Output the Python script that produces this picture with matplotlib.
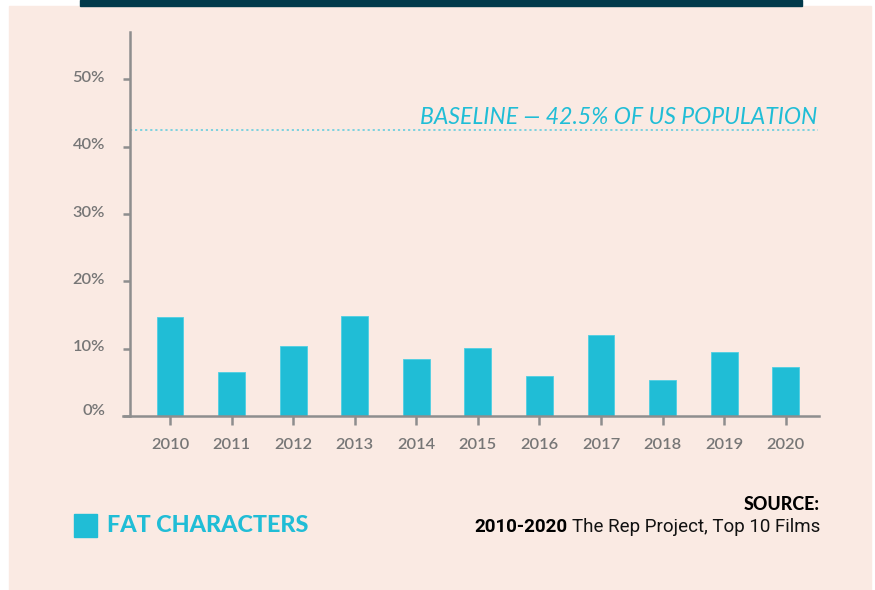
import matplotlib
matplotlib.use("Agg")
import matplotlib.pyplot as plt
from matplotlib.patches import Rectangle
import matplotlib.transforms as mtransforms

years = ["2010", "2011", "2012", "2013", "2014", "2015", "2016", "2017", "2018", "2019", "2020"]
fat_pct = [14.8, 6.5, 10.4, 14.9, 8.5, 10.2, 6.0, 12.0, 5.4, 9.6, 7.3]
baseline = 42.5
yticks = [0, 10, 20, 30, 40, 50]
ytick_labels = ["0%", "10%", "20%", "30%", "40%", "50%"]
baseline_label = "BASELINE — 42.5% OF US POPULATION"
legend_label = "FAT CHARACTERS"

W, H = 875, 590
fig = plt.figure(figsize=(W / 100, H / 100), dpi=100, facecolor="white")

PINK = "#FAEAE3"
CYAN = "#20BDD6"
GREY = "#8E8E8E"
LABEL_GREY = "#767676"

def px(x0, y0, x1, y1):
    # top-origin pixel box -> figure fraction rect
    return (x0 / W, 1 - y1 / H, (x1 - x0) / W, (y1 - y0) / H)

l, b, w, h = px(9, 6, 871, 590)
fig.patches.append(Rectangle((l, b), w, h, transform=fig.transFigure, color=PINK, zorder=-2))
l, b, w, h = px(80, 0, 802, 5.5)
fig.patches.append(Rectangle((l, b), w, h, transform=fig.transFigure, color="#013A4B", zorder=-2))

ax = fig.add_axes(px(123, 32, 819.3, 416.3))
ax.set_zorder(1)
ax.set_facecolor("none")
x = list(range(len(years)))
ax.bar(x, fat_pct, width=0.435, color=CYAN, edgecolor="#4FCFE2", linewidth=0.6, zorder=3)
ax.set_xlim(-0.763, 10.546)
ax.set_ylim(0, 57)

for s in ["top", "right"]:
    ax.spines[s].set_visible(False)
ax.spines["left"].set_position(("data", -0.65))
for s in ["left", "bottom"]:
    ax.spines[s].set_color(GREY)
    ax.spines[s].set_linewidth(1.8)
ax.spines["left"].set_zorder(4)
ax.spines["bottom"].set_zorder(4)

ax.set_xticks(x)
ax.set_xticklabels(years)
ax.set_yticks(yticks)
ax.set_yticklabels(ytick_labels)
ax.tick_params(axis="x", length=6.5, width=1.8, color=GREY, pad=9, labelsize=11.8, labelcolor=LABEL_GREY)
ax.tick_params(axis="y", length=5, width=1.8, color=GREY, pad=13, labelsize=11.8, labelcolor=LABEL_GREY)
for lab in ax.get_xticklabels() + ax.get_yticklabels():
    lab.set_fontfamily(["Lato", "DejaVu Sans"])
    lab.set_fontweight("semibold")
for lab in ax.get_yticklabels():
    dy = 3 if lab.get_text() != "0%" else 7
    lab.set_transform(lab.get_transform() + mtransforms.ScaledTranslation(0, dy / 100, fig.dpi_scale_trans))

# baseline
ax.plot([-0.65, 10.52], [baseline, baseline], linestyle=(0, (1.2, 1.6)), color="#72D0DF", linewidth=1.3, zorder=2)
ax.text(10.52, baseline + 0.85, baseline_label, ha="right", va="baseline", color=CYAN, fontsize=16.6,
        fontstyle="italic", fontweight="normal", family=["Lato", "DejaVu Sans"])

# legend
l, b, w, h = px(74, 514, 97, 537)
fig.patches.append(Rectangle((l, b), w, h, transform=fig.transFigure, color=CYAN, zorder=2))
fig.text(107 / W, 1 - 526 / H, legend_label, ha="left", va="center", color=CYAN, fontsize=16.8,
         fontweight="black", family=["Lato", "DejaVu Sans"])

# source
fig.text(820 / W, 1 - 504 / H, "SOURCE:", ha="right", va="center", color="black", fontsize=12.8,
         fontweight="black", family=["Lato", "DejaVu Sans"])
t1 = fig.text(820 / W, 1 - 527 / H, "The Rep Project, Top 10 Films", ha="right", va="center", color="#111111",
              fontsize=13.5, family=["Roboto", "DejaVu Sans"])
fig.canvas.draw()
bb = t1.get_window_extent()
fig.text(bb.x0 / W - 4 / W, 1 - 527 / H, "2010-2020", ha="right", va="center", color="black",
         fontsize=13.5, fontweight="bold", family=["Roboto", "DejaVu Sans"])

fig.savefig("out.png", dpi=100, facecolor="white")
